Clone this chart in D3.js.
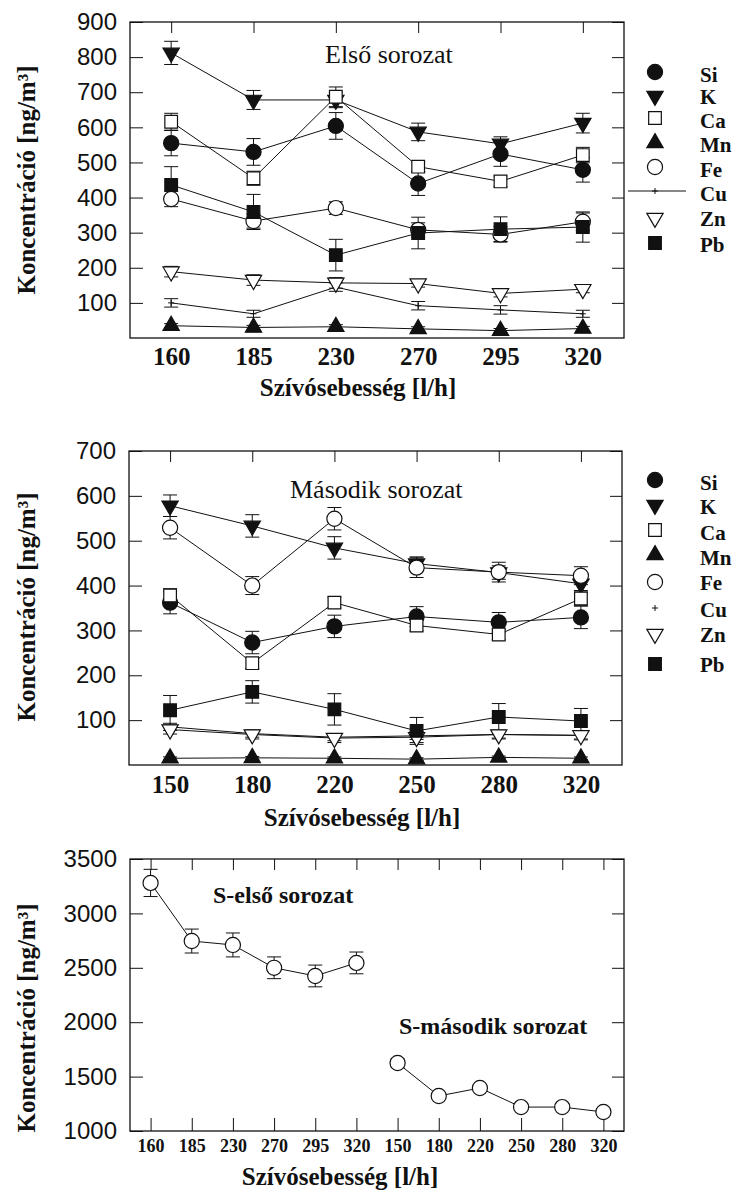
<!DOCTYPE html>
<html>
<head>
<meta charset="utf-8">
<script src="https://cdn.jsdelivr.net/npm/d3@7"></script>
<style>
  html, body { margin: 0; padding: 0; background: #fff; }
  svg { display: block; }
</style>
</head>
<body>
<svg id="chart" width="739" height="1196"></svg>
<script>
// ---- Első sorozat (first series) ----
const firstCats = ["160", "185", "230", "270", "295", "320"];
const firstSi   = [555, 530, 604, 440, 524, 479];
const firstSiErr = [36, 38, 38, 34, 35, 35];
const firstK    = [812, 678, 678, 587, 553, 612];
const firstKErr = [33, 27, 22, 25, 20, 28];
const firstCa   = [616, 455, 687, 488, 446, 521];
const firstCaErr = [24, 20, 28, 15, 15, 22];
const firstMn   = [35, 30, 32, 26, 21, 27];
const firstMnErr = [6, 6, 6, 6, 6, 6];
const firstFe   = [396, 333, 370, 308, 295, 331];
const firstFeErr = [22, 20, 18, 20, 22, 25];
const firstCu   = [100, 69, 145, 92, 80, 69];
const firstCuErr = [12, 10, 12, 12, 12, 10];
const firstZn   = [189, 165, 157, 155, 127, 139];
const firstZnErr = [15, 15, 15, 10, 10, 10];
const firstPb   = [436, 359, 236, 299, 310, 316];
const firstPbErr = [52, 50, 45, 45, 35, 43];
const firstTicks = [100, 200, 300, 400, 500, 600, 700, 800, 900];

// ---- Második sorozat (second series) ----
const secondCats = ["150", "180", "220", "250", "280", "320"];
const secondSi   = [362, 273, 309, 331, 318, 329];
const secondSiErr = [25, 25, 25, 22, 22, 25];
const secondK    = [578, 533, 484, 449, 429, 404];
const secondKErr = [24, 25, 25, 15, 15, 15];
const secondCa   = [378, 227, 362, 311, 291, 371];
const secondCaErr = [15, 12, 12, 12, 12, 15];
const secondMn   = [15, 16, 15, 13, 17, 15];
const secondMnErr = [3, 3, 3, 3, 3, 3];
const secondFe   = [529, 400, 549, 440, 430, 422];
const secondFeErr = [25, 20, 25, 22, 22, 20];
const secondCu   = [85, 70, 62, 65, 68, 66];
const secondCuErr = [8, 8, 8, 8, 8, 8];
const secondZn   = [79, 68, 60, 62, 68, 66];
const secondZnErr = [10, 10, 10, 12, 10, 10];
const secondPb   = [122, 163, 124, 76, 107, 98];
const secondPbErr = [33, 25, 35, 30, 30, 28];
const secondTicks = [100, 200, 300, 400, 500, 600, 700];

// ---- Sulphur, both series on one axis ----
const sCats = ["160", "185", "230", "270", "295", "320", "150", "180", "220", "250", "280", "320"];
const sFirst = [3280, 2746, 2710, 2500, 2425, 2545];
const sFirstErr = [125, 110, 110, 100, 100, 100];
const sSecond = [1625, 1322, 1395, 1220, 1220, 1175];
const sSecondErr = [40, 30, 30, 30, 30, 30];
const sTicks = [1000, 1500, 2000, 2500, 3000, 3500];

const elements = ["Si", "K", "Ca", "Mn", "Fe", "Cu", "Zn", "Pb"];

const svg = d3.select("#chart");
const INK = "#111";
const SERIF = "'Liberation Serif', 'Times New Roman', serif";
const SANS = "'Liberation Sans', Arial, sans-serif";

// marker shapes
const markerStyle = {
  Si: { type: d3.symbolCircle, size: 180, fill: INK, rot: 0 },
  K:  { type: d3.symbolTriangle, size: 115, fill: INK, rot: 180 },
  Ca: { type: d3.symbolSquare, size: 160, fill: "#fff", rot: 0 },
  Mn: { type: d3.symbolTriangle, size: 115, fill: INK, rot: 0 },
  Fe: { type: d3.symbolCircle, size: 180, fill: "#fff", rot: 0 },
  Cu: { type: d3.symbolCross, size: 0, fill: "none", rot: 0 },
  Zn: { type: d3.symbolTriangle, size: 115, fill: "#fff", rot: 180 },
  Pb: { type: d3.symbolSquare, size: 160, fill: INK, rot: 0 }
};

function drawMarker(g, name, x, y) {
  const m = markerStyle[name];
  if (name === "Cu") {
    // small plus
    g.append("path")
      .attr("d", `M${x - 3},${y}H${x + 3}M${x},${y - 3}V${y + 3}`)
      .attr("stroke", INK).attr("stroke-width", 1).attr("fill", "none");
    return;
  }
  g.append("path")
    .attr("d", d3.symbol(m.type, m.size)())
    .attr("transform", `translate(${x},${y}) rotate(${m.rot})`)
    .attr("fill", m.fill)
    .attr("stroke", INK)
    .attr("stroke-width", 1.2);
}

function frameAndAxes(p) {
  const g = svg.append("g");
  // y ticks, left (inward) with labels
  const yl = g.append("g").attr("transform", `translate(${p.left},0)`)
    .call(d3.axisLeft(p.y).tickValues(p.yTicks).tickSize(-13).tickPadding(13).tickFormat(d3.format("d")));
  yl.select(".domain").remove();
  yl.selectAll("line").attr("stroke", INK);
  yl.selectAll("text").attr("font-size", 24).attr("fill", INK).attr("font-family", SANS);
  // right ticks (inward)
  const yr = g.append("g").attr("transform", `translate(${p.right},0)`)
    .call(d3.axisRight(p.y).tickValues(p.yTicks).tickSize(-12).tickFormat(""));
  yr.select(".domain").remove();
  yr.selectAll("line").attr("stroke", INK);
  // top ticks (inward)
  const xt = g.append("g").attr("transform", `translate(0,${p.top})`)
    .call(d3.axisTop(p.x).tickSize(-11).tickFormat(""));
  xt.select(".domain").remove();
  xt.selectAll("line").attr("stroke", INK);
  // bottom labels (and ticks where present)
  const xb = g.append("g").attr("transform", `translate(0,${p.bottom})`)
    .call(d3.axisBottom(p.x).tickSize(p.bottomTick ? -13 : 0).tickFormat(p.xFormat));
  xb.select(".domain").remove();
  xb.selectAll("line").attr("stroke", INK);
  xb.selectAll("text")
    .attr("font-family", SERIF)
    .attr("font-weight", "bold")
    .attr("font-size", p.xFont)
    .attr("fill", INK)
    .attr("dy", null)
    .attr("y", p.xLabelOffset);
  // frame
  g.append("rect")
    .attr("x", p.left).attr("y", p.top)
    .attr("width", p.right - p.left).attr("height", p.bottom - p.top)
    .attr("fill", "none").attr("stroke", INK).attr("stroke-width", 1.3);
  // axis titles
  g.append("text")
    .attr("font-family", SERIF)
    .attr("font-weight", "bold").attr("font-size", 25).attr("fill", INK)
    .attr("text-anchor", "middle")
    .attr("x", p.xTitleX).attr("y", p.xTitleY)
    .text("Szívósebesség [l/h]");
  g.append("text")
    .attr("font-family", SERIF)
    .attr("font-weight", "bold").attr("font-size", 25).attr("fill", INK)
    .attr("text-anchor", "middle")
    .attr("transform", `translate(35,${p.yTitleY}) rotate(-90)`)
    .text("Koncentráció [ng/m³]");
}

function drawSeries(g, x, y, keys, vals, errs) {
  const pts = keys.map((k, i) => ({ k, v: vals[i], e: errs[i] }));
  const line = d3.line().x(d => x(d.k)).y(d => y(d.v));
  g.append("path").datum(pts).attr("d", line)
    .attr("fill", "none").attr("stroke", INK).attr("stroke-width", 1);
  return pts;
}

function drawErrors(g, x, y, pts) {
  pts.forEach(d => {
    const cx = x(d.k);
    const y1 = y(d.v + d.e), y0 = y(d.v - d.e);
    g.append("path")
      .attr("d", `M${cx},${y1}V${y0}M${cx - 7},${y1}H${cx + 7}M${cx - 7},${y0}H${cx + 7}`)
      .attr("fill", "none").attr("stroke", INK).attr("stroke-width", 1);
  });
}

function drawLegend(rows, markerX, labelX, cuLine) {
  const g = svg.append("g");
  rows.forEach(r => {
    if (r.name === "Cu" && cuLine) {
      g.append("line").attr("x1", 628).attr("x2", 686).attr("y1", r.my).attr("y2", r.my)
        .attr("stroke", INK).attr("stroke-width", 1);
    }
    drawMarker(g, r.name, markerX, r.my);
    g.append("text")
      .attr("font-family", SERIF)
      .attr("font-weight", "bold").attr("font-size", 21).attr("fill", INK)
      .attr("x", labelX).attr("y", r.by).text(r.name);
  });
}

function elementPanel(p, cats, data) {
  const x = d3.scalePoint().domain(cats).range([p.left, p.right]).padding(0.5);
  const y = d3.scaleLinear().domain(p.yDomain).range([p.bottom, p.top]);
  p.x = x; p.y = y; p.xFormat = d => d;
  frameAndAxes(p);
  const g = svg.append("g");
  const all = elements.map(name => ({ name, pts: drawSeries(g, x, y, cats, data[name][0], data[name][1]) }));
  all.forEach(s => drawErrors(g, x, y, s.pts));
  all.forEach(s => s.pts.forEach(d => drawMarker(g, s.name, x(d.k), y(d.v))));
  svg.append("text")
    .attr("font-family", SERIF)
    .attr("font-size", 26).attr("fill", INK)
    .attr("x", p.titleX).attr("y", p.titleY).text(p.title);
}

// ---- panel 1 ----
elementPanel({
  left: 130, right: 624, top: 22, bottom: 338, yDomain: [0, 900], yTicks: firstTicks,
  bottomTick: false, xFont: 25, xLabelOffset: 27,
  xTitleX: 358, xTitleY: 396, yTitleY: 180,
  title: "Első sorozat", titleX: 325, titleY: 63
}, firstCats, {
  Si: [firstSi, firstSiErr], K: [firstK, firstKErr], Ca: [firstCa, firstCaErr],
  Mn: [firstMn, firstMnErr], Fe: [firstFe, firstFeErr], Cu: [firstCu, firstCuErr],
  Zn: [firstZn, firstZnErr], Pb: [firstPb, firstPbErr]
});
drawLegend([
  { name: "Si", my: 72, by: 82 }, { name: "K", my: 96, by: 104 },
  { name: "Ca", my: 118, by: 128 }, { name: "Mn", my: 143, by: 152 },
  { name: "Fe", my: 167, by: 177 }, { name: "Cu", my: 191, by: 201 },
  { name: "Zn", my: 218, by: 226 }, { name: "Pb", my: 243, by: 252 }
], 655, 700, true);

// ---- panel 2 ----
elementPanel({
  left: 129, right: 622, top: 451, bottom: 765, yDomain: [0, 700], yTicks: secondTicks,
  bottomTick: false, xFont: 25, xLabelOffset: 28,
  xTitleX: 362, xTitleY: 826, yTitleY: 607,
  title: "Második sorozat", titleX: 290, titleY: 498
}, secondCats, {
  Si: [secondSi, secondSiErr], K: [secondK, secondKErr], Ca: [secondCa, secondCaErr],
  Mn: [secondMn, secondMnErr], Fe: [secondFe, secondFeErr], Cu: [secondCu, secondCuErr],
  Zn: [secondZn, secondZnErr], Pb: [secondPb, secondPbErr]
});
drawLegend([
  { name: "Si", my: 480, by: 490 }, { name: "K", my: 505, by: 514 },
  { name: "Ca", my: 530, by: 540 }, { name: "Mn", my: 555, by: 565 },
  { name: "Fe", my: 582, by: 590 }, { name: "Cu", my: 608, by: 617 },
  { name: "Zn", my: 634, by: 642 }, { name: "Pb", my: 664, by: 672 }
], 655, 700, false);

// ---- panel 3: sulphur ----
(function () {
  const p = {
    left: 130, right: 624, top: 859, bottom: 1131, yTicks: sTicks,
    bottomTick: true, xFont: 18, xLabelOffset: 21,
    xTitleX: 340, xTitleY: 1185, yTitleY: 1018
  };
  const idx = d3.range(sCats.length);
  const x = d3.scalePoint().domain(idx).range([p.left, p.right]).padding(0.5);
  const y = d3.scaleLinear().domain([1000, 3500]).range([p.bottom, p.top]);
  p.x = x; p.y = y; p.xFormat = i => sCats[i];
  frameAndAxes(p);
  const g = svg.append("g");
  const a = drawSeries(g, x, y, idx.slice(0, 6), sFirst, sFirstErr);
  const b = drawSeries(g, x, y, idx.slice(6), sSecond, sSecondErr);
  drawErrors(g, x, y, a);
  drawErrors(g, x, y, b);
  a.concat(b).forEach(d => drawMarker(g, "Fe", x(d.k), y(d.v)));
  const t = [["S-első sorozat", 213, 903], ["S-második sorozat", 399, 1034]];
  t.forEach(([s, tx, ty]) => svg.append("text")
    .attr("font-family", SERIF)
    .attr("font-weight", "bold").attr("font-size", 24).attr("fill", INK)
    .attr("x", tx).attr("y", ty).text(s));
})();
</script>
</body>
</html>
